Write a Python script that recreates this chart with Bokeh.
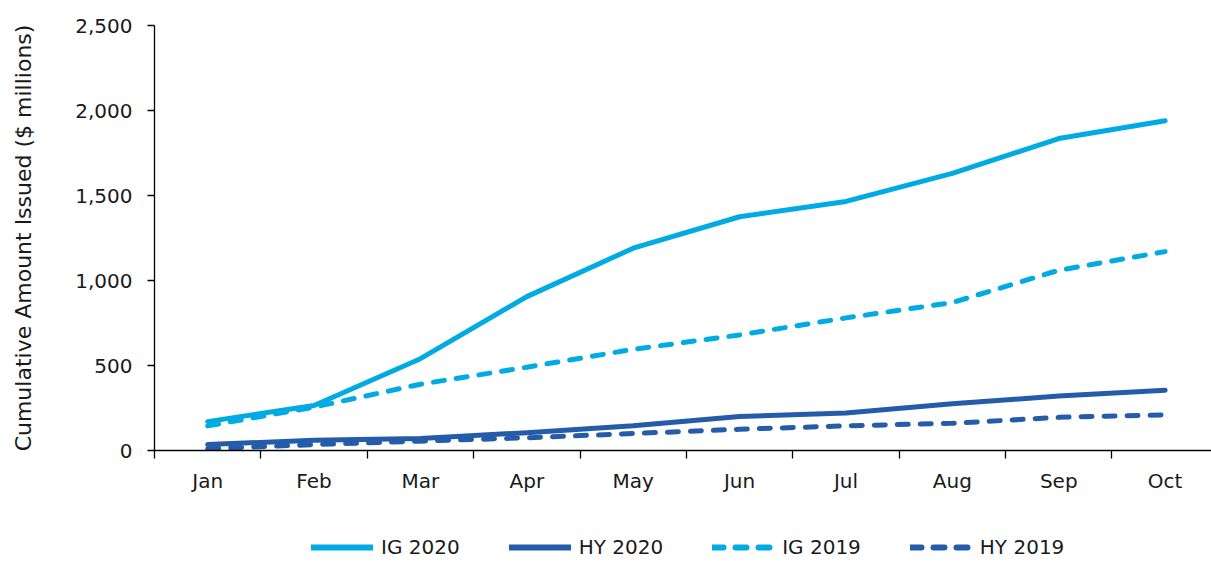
from bokeh.plotting import figure
from bokeh.layouts import column
from bokeh.models import Range1d, FixedTicker, Legend, LegendItem, NumeralTickFormatter
from bokeh.embed import file_html
from bokeh.resources import INLINE

months = ["Jan", "Feb", "Mar", "Apr", "May", "Jun", "Jul", "Aug", "Sep", "Oct"]
ig_2020 = [170, 265, 540, 905, 1190, 1375, 1465, 1630, 1835, 1940]
hy_2020 = [35, 60, 70, 105, 145, 200, 220, 275, 320, 355]
ig_2019 = [145, 255, 390, 490, 595, 680, 780, 870, 1060, 1170]
hy_2019 = [10, 35, 55, 75, 100, 125, 145, 160, 195, 210]
y_ticks = [0, 500, 1000, 1500, 2000, 2500]
series_labels = ["IG 2020", "HY 2020", "IG 2019", "HY 2019"]

IG_COLOR = "#00ABE4"
HY_COLOR = "#245CAA"
FONT = "DejaVu Sans"
DASH = "11 12"

x = list(range(len(months)))
series = [ig_2020, hy_2020, ig_2019, hy_2019]
styles = [(IG_COLOR, "solid"), (HY_COLOR, "solid"), (IG_COLOR, DASH), (HY_COLOR, DASH)]

p = figure(width=1211, height=530, output_backend="svg", toolbar_location=None,
           x_range=Range1d(-0.5, 9.436), y_range=Range1d(0, 2500),
           min_border_left=154, min_border_right=0, min_border_top=25, min_border_bottom=80)
p.outline_line_color = None
p.xgrid.visible = False
p.ygrid.visible = False
p.background_fill_color = "white"
p.border_fill_color = "white"

for vals, (c, d) in zip(series, styles):
    p.line(x, vals, line_color=c, line_width=5, line_dash=d, line_join="round", line_cap="round")

xa = p.xaxis[0]
xa.ticker = FixedTicker(ticks=x, minor_ticks=[i - 0.5 for i in range(len(months))])
xa.major_label_overrides = {i: m for i, m in enumerate(months)}
xa.major_tick_out = 0
xa.major_tick_in = 0
xa.minor_tick_out = 8
xa.minor_tick_in = 0
xa.minor_tick_line_color = "black"
xa.minor_tick_line_width = 1.3
xa.axis_line_color = "black"
xa.axis_line_width = 1.3
xa.major_label_standoff = 10
xa.major_label_text_font = FONT
xa.major_label_text_font_size = "20px"
xa.major_label_text_color = "#1a1a1a"

ya = p.yaxis[0]
ya.ticker = FixedTicker(ticks=y_ticks)
ya.formatter = NumeralTickFormatter(format="0,0")
ya.major_tick_out = 7
ya.major_tick_in = 0
ya.minor_tick_out = 0
ya.minor_tick_in = 0
ya.major_tick_line_color = "black"
ya.major_tick_line_width = 1.3
ya.axis_line_color = "black"
ya.axis_line_width = 1.3
ya.major_label_standoff = 15
ya.major_label_text_font = FONT
ya.major_label_text_font_size = "20px"
ya.major_label_text_color = "#1a1a1a"
ya.axis_label = "Cumulative Amount Issued ($ millions)"
ya.axis_label_text_font = FONT
ya.axis_label_text_font_size = "22px"
ya.axis_label_text_font_style = "normal"
ya.axis_label_text_color = "#1a1a1a"
ya.axis_label_standoff = 36

# legend strip below (its lines are drawn out of view; only the legend shows)
lg = figure(width=1211, height=31, output_backend="svg", toolbar_location=None,
            x_range=Range1d(100, 101), y_range=Range1d(0, 2500),
            min_border_left=0, min_border_right=0, min_border_top=0, min_border_bottom=0)
lg.axis.visible = False
lg.grid.visible = False
lg.outline_line_color = None
lg.border_fill_color = "white"
items = []
for lab, vals, (c, d) in zip(series_labels, series, styles):
    r = lg.line(x, vals, line_color=c, line_width=6, line_dash=d, line_cap="round")
    items.append(LegendItem(label=lab, renderers=[r]))

legend = Legend(items=items, orientation="horizontal", location=(157, 2))
legend.glyph_width = 62
legend.glyph_height = 20
legend.label_standoff = 8
legend.spacing = 49
legend.padding = 0
legend.margin = 0
legend.border_line_color = None
legend.background_fill_alpha = 0
legend.label_text_font = FONT
legend.label_text_font_size = "20px"
legend.label_text_color = "#1a1a1a"
lg.add_layout(legend, "center")

open("out.html", "w").write(file_html(column(p, lg), INLINE))
